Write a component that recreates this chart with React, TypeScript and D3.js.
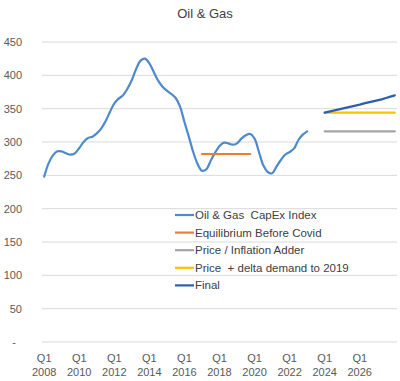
import React from "react";
import * as d3 from "d3";

const years = d3.range(2008, 2029);
const categories: string[] = [];
years.forEach((y) => {
  for (let q = 1; q <= 4; q++) {
    if (y === 2028 && q > 1) break;
    categories.push(`Q${q} ${y}`);
  }
});

const capexIndex = [
  248, 268, 280, 286, 286, 283, 281, 283, 291, 300, 306, 308, 313, 320, 331, 345,
  358, 365, 370, 380, 393, 410, 422, 425, 418, 405, 392, 383, 377, 372, 366, 353,
  330, 308, 285, 267, 257, 259, 272, 284, 294, 299, 298, 296, 298, 305, 310, 312,
  305, 285, 265, 255, 253, 263, 273, 281, 285, 290, 303, 311, 316,
];
const equilibriumStart = 36;
const equilibrium = [282, 282, 282, 282, 282, 282, 282, 282, 282, 282, 282, 282];
const forecastStart = 64;
const inflationAdder = [316, 316, 316, 316, 316, 316, 316, 316, 316, 316, 316, 316, 316, 316, 316, 316, 316];
const deltaDemand = [344, 344, 344, 344, 344, 344, 344, 344, 344, 344, 344, 344, 344, 344, 344, 344, 344];
const finalSeries = [344, 345.5, 347, 348.5, 350, 351.5, 353, 354.5, 356, 358, 359.5, 361, 362.5, 364, 366, 368, 370];

const yTicks = [0, 50, 100, 150, 200, 250, 300, 350, 400, 450];
const xTickLabels = ["2008", "2010", "2012", "2014", "2016", "2018", "2020", "2022", "2024", "2026"];

const legendItems = [
  { name: "Oil & Gas  CapEx Index", color: "#4E8ACB" },
  { name: "Equilibrium Before Covid", color: "#ED7D31" },
  { name: "Price / Inflation Adder", color: "#A5A5A5" },
  { name: "Price  + delta demand to 2019", color: "#FFC000" },
  { name: "Final", color: "#2F5DAA" },
];

const FONT = "'Liberation Sans', Arial, sans-serif";

export default function App() {
  const W = 400, H = 381;
  const x = d3.scaleBand<string>().domain(categories).range([42, 397]).padding(0);
  const y = d3.scaleLinear().domain([0, 450]).range([342, 42]);
  const cx = (i: number) => (x(categories[i]) as number) + x.bandwidth() / 2;

  const smooth = d3.line<number>().x((_, i) => cx(i)).y((d) => y(d)).curve(d3.curveCatmullRom.alpha(0.5));
  const seg = (start: number) =>
    d3.line<number>().x((_, i) => cx(start + i)).y((d) => y(d));

  const series = [
    { d: smooth(capexIndex), c: legendItems[0].color },
    { d: seg(equilibriumStart)(equilibrium), c: legendItems[1].color },
    { d: seg(forecastStart)(inflationAdder), c: legendItems[2].color },
    { d: seg(forecastStart)(deltaDemand), c: legendItems[3].color },
    { d: seg(forecastStart)(finalSeries), c: legendItems[4].color },
  ];

  return (
    <svg width={W} height={H} style={{ position: "absolute", left: 0, top: 0, background: "#fff" }} fontFamily={FONT}>
      <text x={205} y={18} textAnchor="middle" fontSize={13} fill="#404040">Oil &amp; Gas</text>
      {yTicks.map((t) => (
        <g key={t}>
          <line x1={42} x2={397} y1={y(t)} y2={y(t)} stroke="#D9D9D9" strokeWidth={1} />
          <text x={t === 0 ? 14 : 22} y={y(t)} dy="0.35em" textAnchor={t === 0 ? "middle" : "end"} fontSize={11} fill="#595959">
            {t === 0 ? "-" : t}
          </text>
        </g>
      ))}
      {xTickLabels.map((yr) => {
        const px = (x(`Q1 ${yr}`) as number) + x.bandwidth() / 2;
        return (
          <g key={yr}>
            <text x={px} y={362} textAnchor="middle" fontSize={11} fill="#595959">Q1</text>
            <text x={px} y={376} textAnchor="middle" fontSize={11} fill="#595959">{yr}</text>
          </g>
        );
      })}
      {series.map((s, i) => (
        <path key={i} d={s.d || ""} fill="none" stroke={s.c} strokeWidth={2.2} strokeLinecap="round" strokeLinejoin="round" />
      ))}
      {legendItems.map((it, i) => {
        const ly = 215 + i * 17.6;
        return (
          <g key={it.name}>
            <line x1={175} x2={194} y1={ly} y2={ly} stroke={it.color} strokeWidth={2.2} />
            <text x={195} y={ly} dy="0.35em" fontSize={11.5} fill="#404040" style={{ whiteSpace: "pre" }}>{it.name}</text>
          </g>
        );
      })}
    </svg>
  );
}
